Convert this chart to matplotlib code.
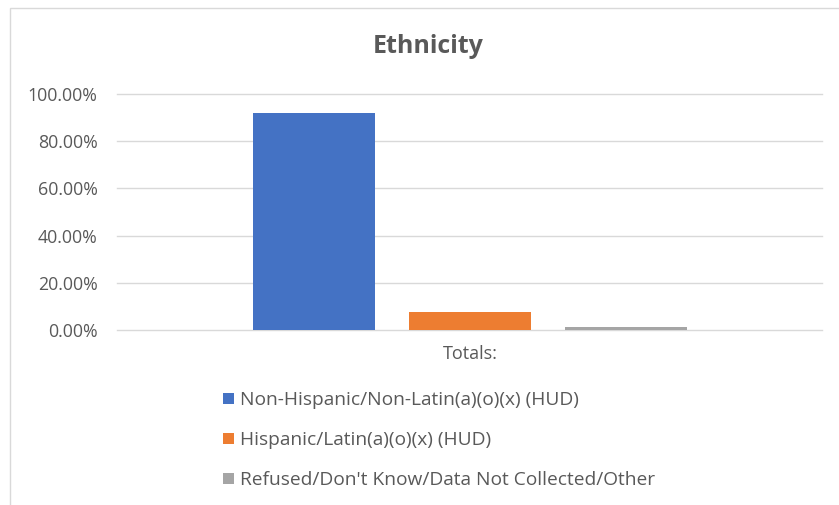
import matplotlib.pyplot as plt
from matplotlib.patches import Rectangle
from matplotlib.ticker import PercentFormatter

# Data
categories = ["Non-Hispanic/Non-Latin(a)(o)(x) (HUD)",
              "Hispanic/Latin(a)(o)(x) (HUD)",
              "Refused/Don't Know/Data Not Collected/Other"]
values = [0.919, 0.075, 0.014]
colors = ["#4472C4", "#ED7D31", "#A5A5A5"]
yticks = [0.0, 0.2, 0.4, 0.6, 0.8, 1.0]

plt.rcParams['font.family'] = ['Open Sans', 'DejaVu Sans']
text_color = "#595959"

fig = plt.figure(figsize=(8.39, 5.05), dpi=100)
W, H = 839, 505

# chart border (light gray, right/bottom edges cut off)
fig.patches.append(Rectangle((10 / W, -0.05), 1.2, 1 - 8 / H + 0.05,
                             transform=fig.transFigure, fill=False,
                             edgecolor="#d9d9d9", linewidth=1))

ax = fig.add_axes([117 / W, 1 - 330 / H, (822 - 117) / W, (330 - 94) / H])

bars = []
for i, (cat, v, c) in enumerate(zip(categories, values, colors)):
    b = ax.bar(i, v, width=0.78, color=c, label=cat, zorder=3)
    bars.append(b)

ax.set_xlim(-1.263, 3.256)
ax.set_ylim(0, 1.0)
ax.set_yticks(yticks)
ax.yaxis.set_major_formatter(PercentFormatter(1.0, decimals=2))
ax.set_xticks([1])
ax.set_xticklabels(["Totals:"])
ax.tick_params(axis='y', length=0, labelsize=12.8, colors=text_color, pad=14)
ax.tick_params(axis='x', length=0, labelsize=13, colors=text_color, pad=11)
ax.grid(axis='y', color="#d9d9d9", linewidth=1, zorder=0, clip_on=False)
for s in ax.spines.values():
    s.set_visible(False)

fig.text(428 / W, 1 - 53 / H, "Ethnicity", ha='center', va='baseline',
         fontsize=18, fontweight='bold', color=text_color)

fig.legend(handles=[b[0] for b in bars], labels=categories,
           loc='upper left', bbox_to_anchor=(206 / W, 1 - 374 / H),
           frameon=False, ncol=1, fontsize=13.8, labelcolor=text_color,
           handlelength=0.55, handleheight=0.55, handletextpad=0.3,
           labelspacing=1.15)

fig.savefig("out.png", dpi=100)
